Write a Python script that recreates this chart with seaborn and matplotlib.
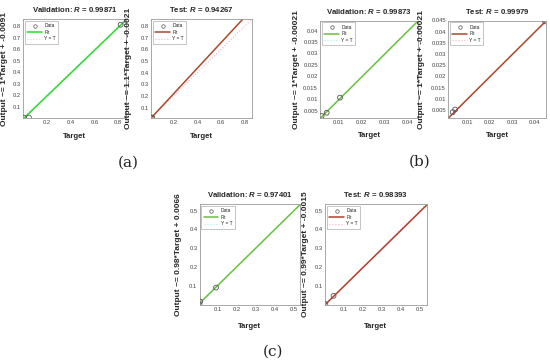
import matplotlib
matplotlib.use('Agg')
import matplotlib.pyplot as plt
from matplotlib.lines import Line2D
import seaborn as sns
import pandas as pd

# ---------------- data ----------------
panel_kind = ['Validation', 'Test', 'Validation', 'Test', 'Validation', 'Test']
panel_r = ['0.99871', '0.94267', '0.99873', '0.99979', '0.97401', '0.98393']
fit_slope = [1.0, 1.1, 1.0, 1.0, 0.98, 0.99]
fit_intercept = [-0.0091, -0.0021, -0.00021, -0.00021, 0.0066, -0.0015]
fit_label = ['Output ~= 1*Target + -0.0091',
             'Output ~= 1.1*Target + -0.0021',
             'Output ~= 1*Target + -0.00021',
             'Output ~= 1*Target + -0.00021',
             'Output ~= 0.98*Target + 0.0066',
             'Output ~= 0.99*Target + -0.0015']

a_val_target = [0.008, 0.05, 0.82]
a_val_output = [0.004, 0.004, 0.815]
a_test_target = [0.015, 0.02]
a_test_output = [0.012, 0.014]
b_val_target = [0.0025, 0.0047, 0.0105]
b_val_output = [0.0027, 0.0041, 0.0107]
b_test_target = [0.0035, 0.0046, 0.0446]
b_test_output = [0.0040, 0.0052, 0.0446]
c_val_target = [0.0, 0.004, 0.088]
c_val_output = [0.0, 0.016, 0.090]
c_test_target = [0.002, 0.045]
c_test_output = [0.002, 0.046]
targets = [a_val_target, a_test_target, b_val_target, b_test_target, c_val_target, c_test_target]
outputs = [a_val_output, a_test_output, b_val_output, b_test_output, c_val_output, c_test_output]

axis_lims = [(0.0, 0.865), (0.01, 0.86), (0.0018, 0.0444), (0.0014, 0.045), (0.0, 0.535), (0.0, 0.535)]
xtick_labels = [['0.2', '0.4', '0.6', '0.8'], ['0.2', '0.4', '0.6', '0.8'],
                ['0.01', '0.02', '0.03', '0.04'], ['0.01', '0.02', '0.03', '0.04'],
                ['0.1', '0.2', '0.3', '0.4', '0.5'], ['0.1', '0.2', '0.3', '0.4', '0.5']]
ytick_labels = [['0.1', '0.2', '0.3', '0.4', '0.5', '0.6', '0.7', '0.8'],
                ['0.1', '0.2', '0.3', '0.4', '0.5', '0.6', '0.7', '0.8'],
                ['0.005', '0.01', '0.015', '0.02', '0.025', '0.03', '0.035', '0.04'],
                ['0.005', '0.01', '0.015', '0.02', '0.025', '0.03', '0.035', '0.04', '0.045'],
                ['0.1', '0.2', '0.3', '0.4', '0.5'], ['0.1', '0.2', '0.3', '0.4', '0.5']]
panel_letters = ['(a)', '(b)', '(c)']

# ---------------- style ----------------
sns.set_theme(style='white')
plt.rcParams['font.family'] = ['Liberation Sans', 'DejaVu Sans']
plt.rcParams['mathtext.fontset'] = 'custom'
plt.rcParams['mathtext.it'] = 'Liberation Sans:italic:bold'
plt.rcParams['mathtext.rm'] = 'Liberation Sans:bold'

W, H = 550, 364
# axes boxes in pixels: left, right, top, bottom
boxes = [(23, 126, 19, 118), (151, 252, 19, 118),
         (320, 418, 20.5, 118), (448, 546, 20.5, 118),
         (199.5, 300, 204, 304.5), (325, 426.5, 204, 304.5)]
ylab_x = [-0.146, -0.19, -0.205, -0.235, -0.177, -0.16]
xlab_y = [-0.155, -0.155, -0.14, -0.14, -0.18, -0.18]
fit_colors = ['#2fd82f', '#a84a2c', '#6cc040', '#a84a2c', '#6cc040', '#b0402e']
yt_colors = ['#a8ecec', '#f5b3c8', '#a8ecec', '#f5b3c8', '#a8ecec', '#f5b3c8']
letter_pos = [(128, 163), (420, 162), (273, 352)]

fig = plt.figure(figsize=(W / 100, H / 100), dpi=100)

for i in range(6):
    l, r, t, b = boxes[i]
    ax = fig.add_axes([l / W, 1 - b / H, (r - l) / W, (b - t) / H])
    lo, hi = axis_lims[i]
    df = pd.DataFrame({'Target': targets[i], 'Output': outputs[i]})
    ax.axline((0, 0), slope=1, color=yt_colors[i], lw=0.8, ls=':', zorder=1)
    ax.axline((0, fit_intercept[i]), slope=fit_slope[i], color=fit_colors[i], lw=1.1, zorder=2)
    sns.scatterplot(data=df, x='Target', y='Output', ax=ax, marker='o', s=12,
                    facecolor='none', edgecolor='#555555', linewidth=0.6, zorder=3)
    ax.set_xlim(lo, hi)
    ax.set_ylim(lo, hi)
    ax.set_xticks([float(v) for v in xtick_labels[i]])
    ax.set_xticklabels(xtick_labels[i])
    ax.set_yticks([float(v) for v in ytick_labels[i]])
    ax.set_yticklabels(ytick_labels[i])
    ax.tick_params(axis='both', labelsize=4.2, colors='#555555', length=1.5, width=0.4,
                   direction='in', pad=1.5, labelcolor='#444444')
    for s in ax.spines.values():
        s.set_color('#9a9a9a')
        s.set_linewidth(0.6)
    ax.set_title(panel_kind[i] + ': $R$ = ' + panel_r[i], fontsize=5.6,
                 fontweight='bold', pad=5)
    ax.set_xlabel('Target', fontsize=5.6, fontweight='bold')
    ax.set_ylabel(fit_label[i], fontsize=6, fontweight='bold')
    ax.xaxis.set_label_coords(0.5, xlab_y[i])
    ax.yaxis.set_label_coords(ylab_x[i], 0.5)
    handles = [Line2D([], [], marker='o', ls='none', mfc='none', mec='#555555', ms=2.5, mew=0.5),
               Line2D([], [], color=fit_colors[i], lw=1.1),
               Line2D([], [], color=yt_colors[i], lw=0.8, ls=':')]
    leg = ax.legend(handles, ['Data', 'Fit', 'Y = T'], loc='upper left', fontsize=3.5,
                    frameon=True, fancybox=False, borderaxespad=0.4, handlelength=3,
                    handletextpad=0.5, borderpad=0.5, labelspacing=0.3)
    leg.get_frame().set_edgecolor('#9a9a9a')
    leg.get_frame().set_linewidth(0.5)

for (x, y), txt in zip(letter_pos, panel_letters):
    fig.text(x / W, 1 - y / H, txt, ha='center', va='center', fontsize=11,
             family=['DejaVu Serif'], color='#222222')

fig.savefig('out.png', dpi=100)
